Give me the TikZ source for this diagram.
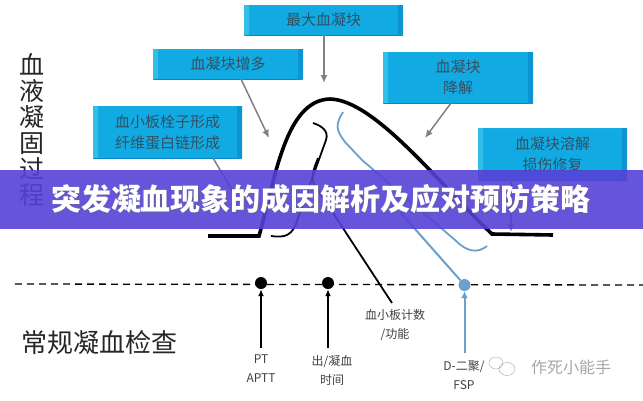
\documentclass[tikz,border=0pt]{standalone}
\usepackage{fontspec}
\usepackage{xcolor}
\setmainfont{Noto Sans CJK SC}
\usetikzlibrary{arrows.meta}
\definecolor{boxblue}{RGB}{18,170,226}
\definecolor{boxtop}{RGB}{70,205,240}
\definecolor{boxlow}{RGB}{8,135,200}
\definecolor{boxtext}{RGB}{50,80,100}
\definecolor{curveblue}{RGB}{105,160,205}
\definecolor{banner}{RGB}{85,65,215}
\tikzset{
	bevelbox/.style={rectangle,fill=boxblue,inner sep=0pt,align=center,text=boxtext,font=\fontsize{15}{21}\selectfont,
		drop shadow/.try,
		path picture={
			\fill[boxtop] (path picture bounding box.north west) -- (path picture bounding box.north east)
				-- ++(-5,-5) -- ([shift={(5,-5)}]path picture bounding box.north west) -- cycle;
			\fill[boxtop!60!boxblue] (path picture bounding box.north west) -- (path picture bounding box.south west)
				-- ++(5,5) -- ([shift={(5,-5)}]path picture bounding box.north west) -- cycle;
			\fill[boxlow] (path picture bounding box.south west) -- (path picture bounding box.south east)
				-- ++(-5,5) -- ([shift={(5,5)}]path picture bounding box.south west) -- cycle;
			\fill[boxlow!60!boxblue] (path picture bounding box.north east) -- (path picture bounding box.south east)
				-- ++(-5,5) -- ([shift={(-5,-5)}]path picture bounding box.north east) -- cycle;
		}},
	greyarrow/.style={draw=gray,line width=1.5pt,-{Latex[length=8pt,width=7pt]}},
	blackarrow/.style={draw=black,line width=1.6pt,-{Latex[length=7pt,width=6pt]}},
	bluearrow/.style={draw=curveblue,line width=2pt,-{Latex[length=7pt,width=7pt]}},
	dot/.style={circle,inner sep=0pt,minimum size=12pt,fill=black},
	label text/.style={text=black!75,font=\fontsize{12}{19}\selectfont,align=center,inner sep=0pt},
}
\begin{document}
\begin{tikzpicture}[x=1pt,y=-1pt]
	\useasboundingbox (0,0) rectangle (643,400);
	% boxes
	\node [bevelbox,minimum width=159pt,minimum height=30pt] (peak) at (323.5,20) {最大血凝块};
	\node [bevelbox,minimum width=150pt,minimum height=30pt] (grow) at (228,64) {血凝块增多};
	\node [bevelbox,minimum width=149pt,minimum height=52pt] (plug) at (167.5,132) {血小板栓子形成\\纤维蛋白链形成};
	\node [bevelbox,minimum width=150pt,minimum height=51pt] (lysis) at (458,77.5) {血凝块\\降解};
	\node [bevelbox,minimum width=149pt,minimum height=52pt] (repair) at (552.5,154) {血凝块溶解\\损伤修复};
	% grey arrows
	\coordinate (peakend) at (324,83);
	\coordinate (growend) at (269,138);
	\coordinate (plugend) at (245,212);
	\coordinate (lysisend) at (425,138);
	\coordinate (repairend) at (511,232);
	\draw [greyarrow] (324,35) -- (peakend);
	\draw [greyarrow] (241,79) -- (growend);
	\draw [greyarrow] (213,158) -- (plugend);
	\draw [greyarrow] (451,103) -- (lysisend);
	\draw [greyarrow] (511,180) -- (repairend);
	% curves
	\coordinate (a1) at (208,236);
	\coordinate (a2) at (259,236);
	\coordinate (a3) at (553,235);
	\draw [line width=3.6pt] (a1) -- (a2) .. controls (275,180) and (285,100) .. (330,99)
		.. controls (375,100) and (440,185) .. (492,234) -- (a3);
	\coordinate (b1) at (313,123);
	\coordinate (b2) at (392,303);
	\draw [line width=1.8pt] (b1) .. controls (322,126) and (329,131) .. (326,140)
		-- (298,218) .. controls (293,236) and (285,238) .. (271,236);
	\draw [line width=1.8pt] (318,158) .. controls (311,176) and (310,180) .. (318,190) -- (b2);
	\coordinate (c1) at (343,112);
	\coordinate (c2) at (487,246);
	\draw [draw=curveblue,line width=1.8pt] (c1) .. controls (335,125) and (336,130) .. (345,142)
		-- (362,160) -- (455,240) .. controls (468,253) and (478,253) .. (c2);
	% time line
	\draw [dashed,line width=1.3pt,dash pattern=on 7pt off 5pt] (15,284) -- (643,285);
	\node [dot] (pt) at (261,283) {};
	\node [dot] (bt) at (328,283) {};
	\node [dot,fill=curveblue] (fsp) at (464.5,285) {};
	\draw [draw=curveblue,line width=2pt] (400,212) -- (fsp);
	\coordinate (ptfoot) at (261,348);
	\coordinate (btfoot) at (328,348);
	\coordinate (fspfoot) at (464.5,353);
	\draw [blackarrow] (ptfoot) -- (pt);
	\draw [blackarrow] (btfoot) -- (bt);
	\draw [bluearrow] (fspfoot) -- (fsp);
	% labels
	\node [label text] (ptlabel) at (261,369) {PT\\APTT};
	\node [label text] (btlabel) at (332,370) {出/凝血\\时间};
	\node [label text] (pltlabel) at (395,325) {血小板计数\\/功能};
	\node [label text] (fsplabel) at (464,375) {D-二聚/\\FSP};
	\node [inner sep=0pt,font=\fontsize{26}{26}\selectfont,text=black!85] (axisx) at (99,343) {常规凝血检查};
	\node [inner sep=0pt,font=\fontsize{25}{26}\selectfont,align=center,text=black!85] (axisy) at (32,130) {血\\液\\凝\\固\\过\\程};
	% watermark
	\node [inner sep=0pt,font=\fontsize{16}{16}\selectfont,text=black!35] (mark) at (571,367) {作死小能手};
	\draw [black!30,line width=.5pt] (496,363) ellipse (7pt and 6pt);
	\draw [black!30,line width=.5pt] (507,369) ellipse (8pt and 6.5pt);
	% banner
	\fill [banner,opacity=.9] (0,170) rectangle (643,229);
	\node [inner sep=0pt,font=\fontsize{30}{30}\selectfont\bfseries,text=black!60,opacity=.5] (titleshadow) at (322,200) {突发凝血现象的成因解析及应对预防策略};
	\node [inner sep=0pt,font=\fontsize{30}{30}\selectfont\bfseries,text=white] (title) at (321,199) {突发凝血现象的成因解析及应对预防策略};
\end{tikzpicture}
\end{document}
